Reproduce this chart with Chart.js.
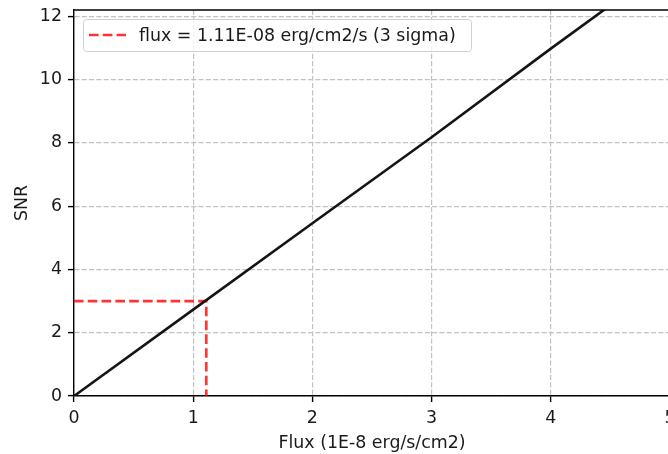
<!DOCTYPE html>
<html>
<head>
<meta charset="utf-8">
<title>SNR vs Flux</title>
<script src="https://cdn.jsdelivr.net/npm/chart.js@4.4.1/dist/chart.umd.min.js"></script>
<style>
  html, body { margin: 0; padding: 0; background: #fff; overflow: hidden; }
  #wrap { width: 668px; height: 454px; overflow: hidden; }
</style>
</head>
<body>
<div id="wrap"><canvas id="snrChart" width="700" height="454"></canvas></div>
<script>
// values
const fluxValues = [0, 1, 2, 3, 4, 5];
const snrValues = [0, 2.73, 5.46, 8.18, 10.98, 13.72];
const limitFlux = [0, 1.11, 1.11];
const limitSnr = [3, 3, 0];
const xTicks = [0, 1, 2, 3, 4, 5];
const yTicks = [0, 2, 4, 6, 8, 10, 12];
const limitLabel = 'flux = 1.11E-08 erg/cm2/s (3 sigma)';

const FONT = '"DejaVu Sans", sans-serif';
const FSIZE = 17.4;
const TXT = '#1a1a1a';

// top spine + framed legend, matplotlib style
const frameAndLegend = {
    id: 'frameAndLegend',
    afterDraw(chart) {
        const ctx = chart.ctx;
        const a = chart.chartArea;
        ctx.save();
        ctx.strokeStyle = '#000';
        ctx.lineWidth = 1.4;
        ctx.beginPath();
        ctx.moveTo(a.left, a.top);
        ctx.lineTo(a.right, a.top);
        ctx.stroke();

        const x = a.left + 9, y = a.top + 9, w = 388, h = 32;
        ctx.fillStyle = 'rgba(255,255,255,0.8)';
        ctx.strokeStyle = '#d0d0d0';
        ctx.lineWidth = 1;
        ctx.beginPath();
        ctx.roundRect(x + 0.5, y + 0.5, w, h, 3);
        ctx.fill();
        ctx.stroke();

        const ds = chart.data.datasets[1];
        ctx.strokeStyle = ds.borderColor;
        ctx.lineWidth = ds.borderWidth;
        ctx.setLineDash(ds.borderDash);
        ctx.beginPath();
        ctx.moveTo(x + 6, y + 16);
        ctx.lineTo(x + 43, y + 16);
        ctx.stroke();
        ctx.setLineDash([]);

        ctx.fillStyle = TXT;
        ctx.font = FSIZE + 'px ' + FONT;
        ctx.textBaseline = 'middle';
        ctx.fillText(ds.label, x + 56, y + 17);
        ctx.restore();
    }
};

const gridOpts = {
    color: '#c2c2c2',
    lineWidth: 1.2,
    tickColor: '#000',
    tickLength: 6,
    tickWidth: 1.4,
    tickBorderDash: []
};

new Chart(document.getElementById('snrChart').getContext('2d'), {
    type: 'scatter',
    data: {
        datasets: [{
            label: 'SNR',
            data: fluxValues.map((f, i) => ({ x: f, y: snrValues[i] })),
            showLine: true,
            borderColor: '#151515',
            borderWidth: 2.6,
            pointRadius: 0,
            clip: 0
        }, {
            label: limitLabel,
            data: limitFlux.map((f, i) => ({ x: f, y: limitSnr[i] })),
            showLine: true,
            borderColor: 'rgba(255,0,0,0.8)',
            borderWidth: 2.6,
            borderDash: [9.6, 4.2],
            pointRadius: 0,
            clip: 0
        }]
    },
    options: {
        responsive: false,
        animation: false,
        devicePixelRatio: 1,
        layout: { padding: { top: 10, right: 30, left: 0, bottom: 0 } },
        plugins: { legend: { display: false }, tooltip: { enabled: false } },
        scales: {
            x: {
                type: 'linear',
                min: 0,
                max: 5,
                afterBuildTicks: s => { s.ticks = xTicks.map(v => ({ value: v })); },
                afterFit: s => { s.height = 58; s.paddingLeft = 0; s.paddingRight = 0; },
                grid: gridOpts,
                border: { color: '#000', width: 1.4, dash: [5.1, 2.2] },
                ticks: { color: TXT, font: { family: FONT, size: FSIZE }, padding: 6, maxRotation: 0, callback: v => String(v) },
                title: { display: true, text: 'Flux (1E-8 erg/s/cm2)', color: TXT, font: { family: FONT, size: FSIZE }, padding: { top: 0, bottom: 0 } }
            },
            y: {
                type: 'linear',
                min: 0,
                max: 12.2,
                afterBuildTicks: s => { s.ticks = yTicks.map(v => ({ value: v })); },
                afterFit: s => { s.width = 74; s.paddingTop = 0; s.paddingBottom = 0; },
                grid: gridOpts,
                border: { color: '#000', width: 1.4, dash: [5.1, 2.2] },
                ticks: { color: TXT, font: { family: FONT, size: FSIZE }, padding: 6, callback: v => String(v) },
                title: { display: true, text: 'SNR', color: TXT, font: { family: FONT, size: FSIZE }, padding: { top: 11.6, bottom: 0 } }
            }
        }
    },
    plugins: [frameAndLegend]
});
</script>
</body>
</html>
